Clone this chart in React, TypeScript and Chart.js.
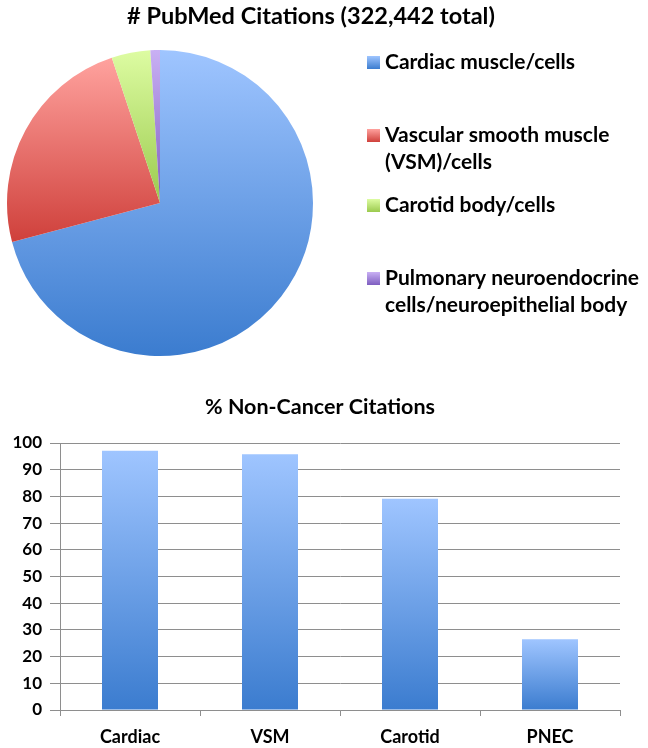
import { useEffect, useRef } from "react";
import { Chart, registerables } from "chart.js";
import type { Plugin, ScriptableContext } from "chart.js";

Chart.register(...registerables);

const FONT = "Lato, 'Open Sans', sans-serif";

// pie: # PubMed citations per tissue
const PIE_TITLE = "# PubMed Citations (322,442 total)";
const pieLabels: string[][] = [
  ["Cardiac muscle/cells"],
  ["Vascular smooth muscle", "(VSM)/cells"],
  ["Carotid body/cells"],
  ["Pulmonary neuroendocrine", "cells/neuroepithelial body"],
];
const pieCitations = [228600, 77400, 13200, 3242];
const pieTopColors = ["#9fc5ff", "#ffa29e", "#ddfca2", "#c9b0f4"];
const pieBottomColors = ["#3b7ccf", "#cf403b", "#9bca4e", "#7e5ec0"];

// bars: % non-cancer citations
const BAR_TITLE = "% Non-Cancer Citations";
const barCategories = ["Cardiac", "VSM", "Carotid", "PNEC"];
const nonCancerPct = [97.1, 95.8, 79.1, 26.5];
const BAR_TOP = "#9fc5ff";
const BAR_BOTTOM = "#3b7ccf";

const GRID = "#8e8e8e";

const finite = (...v: number[]) => v.every((n) => Number.isFinite(n));

function sliceGradient(ctx: ScriptableContext<"pie">) {
  const i = ctx.dataIndex;
  const chart = ctx.chart;
  const area = chart.chartArea;
  if (!area || i === undefined) return pieBottomColors[i ?? 0];
  const cx = (area.left + area.right) / 2;
  const cy = (area.top + area.bottom) / 2;
  const r = Math.min(area.right - area.left, area.bottom - area.top) / 2;
  if (!finite(cx, cy, r) || r <= 0) return pieBottomColors[i];
  const total = pieCitations.reduce((a, b) => a + b, 0);
  const before = pieCitations.slice(0, i).reduce((a, b) => a + b, 0);
  const a0 = -Math.PI / 2 + (before / total) * Math.PI * 2;
  const a1 = a0 + (pieCitations[i] / total) * Math.PI * 2;
  let minY = cy;
  let maxY = cy;
  for (let k = 0; k <= 90; k++) {
    const y = cy + r * Math.sin(a0 + ((a1 - a0) * k) / 90);
    minY = Math.min(minY, y);
    maxY = Math.max(maxY, y);
  }
  const g = chart.ctx.createLinearGradient(0, minY, 0, maxY);
  g.addColorStop(0, pieTopColors[i]);
  g.addColorStop(1, pieBottomColors[i]);
  return g;
}

function barGradient(ctx: ScriptableContext<"bar">) {
  const i = ctx.dataIndex;
  const y = ctx.chart.scales?.y;
  if (!y || i === undefined) return BAR_BOTTOM;
  const top = y.getPixelForValue(nonCancerPct[i]);
  const base = y.getPixelForValue(0);
  if (!finite(top, base) || top === base) return BAR_BOTTOM;
  const g = ctx.chart.ctx.createLinearGradient(0, top, 0, base);
  g.addColorStop(0, BAR_TOP);
  g.addColorStop(1, BAR_BOTTOM);
  return g;
}

function titlePlugin(text: string, x: number, y: number, size: number): Plugin {
  return {
    id: "fixedTitle",
    afterDraw(chart) {
      const c = chart.ctx;
      c.save();
      c.font = `bold ${size}px ${FONT}`;
      c.fillStyle = "#000";
      c.textAlign = "center";
      c.textBaseline = "middle";
      c.fillText(text, x, y);
      c.restore();
    },
  };
}

// legend at the right of the pie, multi-line labels
const pieLegend: Plugin = {
  id: "pieLegend",
  afterDraw(chart) {
    const c = chart.ctx;
    const rowY = [62, 135, 205, 278];
    c.save();
    c.font = `bold 21px ${FONT}`;
    c.textAlign = "left";
    c.textBaseline = "middle";
    pieLabels.forEach((lines, i) => {
      const y0 = rowY[i];
      const g = c.createLinearGradient(0, y0 - 6, 0, y0 + 7);
      g.addColorStop(0, pieTopColors[i]);
      g.addColorStop(1, pieBottomColors[i]);
      c.fillStyle = g;
      c.fillRect(367, y0 - 6, 13, 13);
      c.fillStyle = "#000";
      lines.forEach((line, j) => c.fillText(line, 385, y0 + j * 27));
    });
    c.restore();
  },
};

export default function App() {
  const pieRef = useRef<HTMLCanvasElement | null>(null);
  const barRef = useRef<HTMLCanvasElement | null>(null);

  useEffect(() => {
    if (!pieRef.current || !barRef.current) return;

    const pie = new Chart(pieRef.current, {
      type: "pie",
      data: {
        labels: pieLabels.map((l) => l.join(" ")),
        datasets: [
          {
            data: pieCitations,
            backgroundColor: sliceGradient as any,
            borderWidth: 0,
          },
        ],
      },
      options: {
        responsive: false,
        animation: false,
        layout: { padding: { left: 7, right: 335, top: 50, bottom: 14 } },
        plugins: {
          legend: { display: false },
          title: { display: false },
          tooltip: { enabled: false },
        },
      },
      plugins: [titlePlugin(PIE_TITLE, 311, 16, 23.5), pieLegend],
    });

    const bar = new Chart(barRef.current, {
      type: "bar",
      data: {
        labels: barCategories,
        datasets: [
          {
            data: nonCancerPct,
            backgroundColor: barGradient as any,
            borderWidth: 0,
            barPercentage: 0.4,
            categoryPercentage: 1,
          },
        ],
      },
      options: {
        responsive: false,
        animation: false,
        layout: { padding: { left: 0, right: 28, top: 53, bottom: 0 } },
        plugins: {
          legend: { display: false },
          title: { display: false },
          tooltip: { enabled: false },
        },
        scales: {
          x: {
            afterFit: (s: any) => {
              s.height = 38;
            },
            grid: {
              display: true,
              drawOnChartArea: false,
              drawTicks: true,
              tickLength: 6,
              color: GRID,
            },
            border: { display: true, color: GRID },
            ticks: {
              color: "#000",
              padding: 10,
              font: { family: FONT, size: 18, weight: "bold" },
            },
          },
          y: {
            min: 0,
            max: 100,
            afterFit: (s: any) => {
              s.width = 60;
            },
            grid: { color: GRID, tickLength: 10 },
            border: { display: true, color: GRID },
            ticks: {
              stepSize: 10,
              color: "#000",
              padding: 8,
              font: { family: FONT, size: 17, weight: "bold" },
            },
          },
        },
      },
      plugins: [titlePlugin(BAR_TITLE, 320, 17, 21.5)],
    });

    return () => {
      pie.destroy();
      bar.destroy();
    };
  }, []);

  return (
    <div
      style={{
        position: "absolute",
        left: 0,
        top: 0,
        width: 648,
        height: 748,
        background: "#fff",
        overflow: "hidden",
      }}
    >
      <canvas ref={pieRef} width={648} height={370} style={{ position: "absolute", left: 0, top: 0 }} />
      <canvas ref={barRef} width={648} height={358} style={{ position: "absolute", left: 0, top: 390 }} />
    </div>
  );
}
